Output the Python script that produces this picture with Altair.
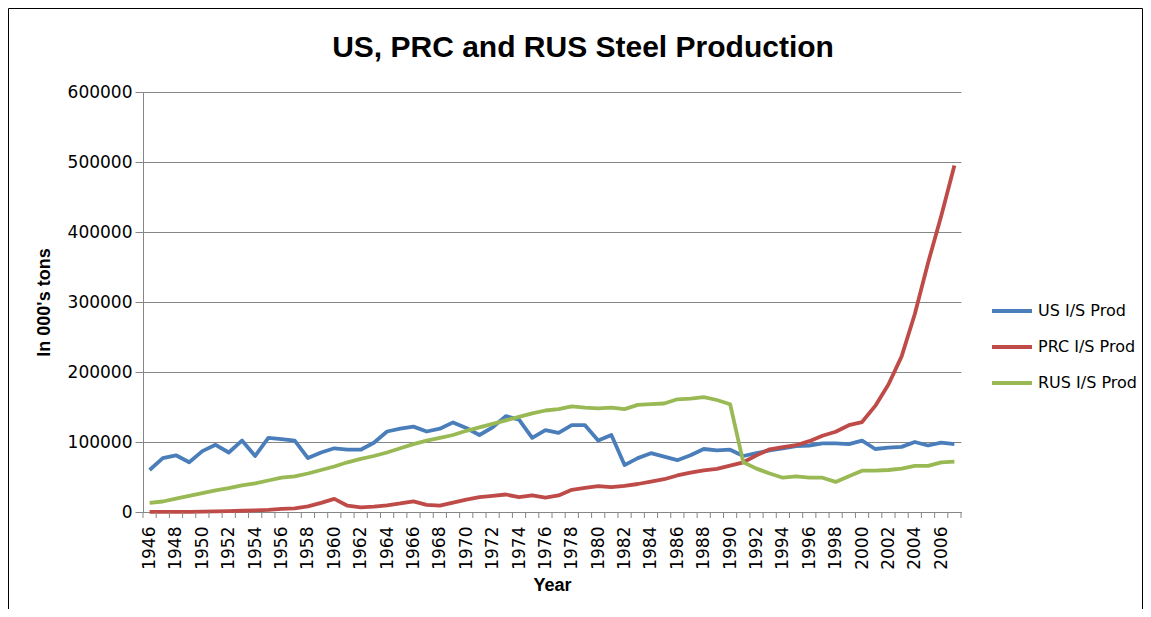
import altair as alt
import pandas as pd

years = list(range(1946, 2008))

us_prod = [60000, 77000, 81000, 71000, 87000, 96000, 85000, 102000, 80000, 106000,
           104000, 102000, 77000, 85000, 91000, 89000, 89000, 99000, 115000, 119000,
           122000, 115000, 119000, 128000, 120000, 110000, 121000, 137000, 132000, 106000,
           117000, 113000, 124000, 124000, 102000, 110000, 67000, 77000, 84000, 79000,
           74000, 81000, 90000, 88000, 89000, 80000, 84000, 88000, 91000, 94000,
           95000, 98000, 98000, 97000, 102000, 90000, 92000, 93000, 100000, 95000,
           99000, 97000]

prc_prod = [100, 100, 200, 200, 600, 900, 1300, 1800, 2200, 2900,
            4500, 5300, 8000, 13000, 18700, 9000, 6700, 7600, 9600, 12200,
            15300, 10300, 9000, 13300, 17800, 21300, 23000, 25000, 21100, 23900,
            20500, 23700, 31700, 34500, 37100, 35600, 37200, 40000, 43500, 46800,
            52200, 56300, 59400, 61600, 66300, 71000, 80900, 89600, 92600, 95400,
            101200, 108900, 114600, 124000, 128500, 151600, 182200, 222300, 282900, 355800,
            423000, 494900]

rus_prod = [13000, 15000, 19000, 23000, 27000, 31000, 34000, 38000, 41000, 45000,
            49000, 51000, 55000, 60000, 65000, 71000, 76000, 80000, 85000, 91000,
            97000, 102000, 106000, 110000, 116000, 121000, 126000, 131000, 136000, 141000,
            145000, 147000, 151000, 149000, 148000, 149000, 147000, 153000, 154000, 155000,
            161000, 162000, 164000, 160000, 154000, 71000, 62000, 55000, 49000, 51000,
            49000, 49000, 43000, 51000, 59000, 59000, 60000, 62000, 66000, 66000,
            71000, 72000]

series_names = ["US I/S Prod", "PRC I/S Prod", "RUS I/S Prod"]
series_colors = ["#4A7EBB", "#BE4B48", "#98B954"]
y_ticks = [0, 100000, 200000, 300000, 400000, 500000, 600000]
x_labels = [y for y in years if y % 2 == 0]

rows = []
for name, vals in zip(series_names, [us_prod, prc_prod, rus_prod]):
    for k, (yr, v) in enumerate(zip(years, vals)):
        rows.append({"year": yr, "value": v, "series": name, "idx": k})
df = pd.DataFrame(rows)

bounds = pd.DataFrame({"year": [y - 0.5 for y in years] + [years[-1] + 0.5]})

x_scale = alt.Scale(domain=[years[0] - 0.5, years[-1] + 0.5], nice=False, zero=False)
x_axis = alt.Axis(values=x_labels, format="d", labelAngle=270, ticks=False,
                  grid=False, labelPadding=14, labelOverlap=False, labelBound=False,
                  labelFlush=False, title="Year", titlePadding=7,
                  domainColor="#868686")
x_enc = alt.X("year:Q", scale=x_scale, axis=x_axis, title="Year")

lines = alt.Chart(df).mark_line(strokeWidth=3.8, strokeJoin="round").encode(
    x=x_enc,
    y=alt.Y("value:Q", scale=alt.Scale(domain=[0, 600000], nice=False),
            axis=alt.Axis(values=y_ticks, format="d", title="In 000's tons",
                          tickSize=8, tickColor="#868686", labelPadding=3,
                          gridColor="#868686", domainColor="#868686", titlePadding=14)),
    color=alt.Color("series:N",
                    scale=alt.Scale(domain=series_names, range=series_colors),
                    legend=alt.Legend(title=None, orient="none", legendX=847, legendY=197,
                                      symbolType="stroke", symbolSize=1600,
                                      symbolStrokeWidth=4, labelFont="DejaVu Sans",
                                      labelFontSize=16, labelColor="#000000",
                                      rowPadding=6, labelOffset=4, padding=0)),
    order="idx:Q"
)

cat_ticks = alt.Chart(bounds).mark_rule(color="#868686", strokeWidth=1).encode(
    x=x_enc,
    y=alt.value(420), y2=alt.value(426)
)

frame = alt.Chart(pd.DataFrame({"a": [0]})).mark_rect(
    fill="white", fillOpacity=0, stroke="#000000", strokeWidth=1
).encode(
    x=alt.value(-134.5), x2=alt.value(999.5), y=alt.value(-83.5), y2=alt.value(700)
)

chart = alt.layer(lines, cat_ticks, frame).properties(
    width=818, height=420,
    autosize=alt.AutoSizeParams(type="none"),
    padding={"left": 135, "top": 84, "right": 182, "bottom": 97},
    title=alt.TitleParams("US, PRC and RUS Steel Production", font="Liberation Sans",
                          fontSize=30, fontWeight="bold", color="#000000",
                          anchor="middle", frame="group", dx=31, offset=-55)
).configure_view(stroke=None).configure_axis(
    labelFont="DejaVu Sans", labelFontSize=17, labelColor="#000000",
    titleFont="Liberation Sans", titleFontSize=18, titleFontWeight="bold",
    titleColor="#000000", labelOverlap=False
)

chart.save("out.html", embed_options={"renderer": "svg", "actions": False})
